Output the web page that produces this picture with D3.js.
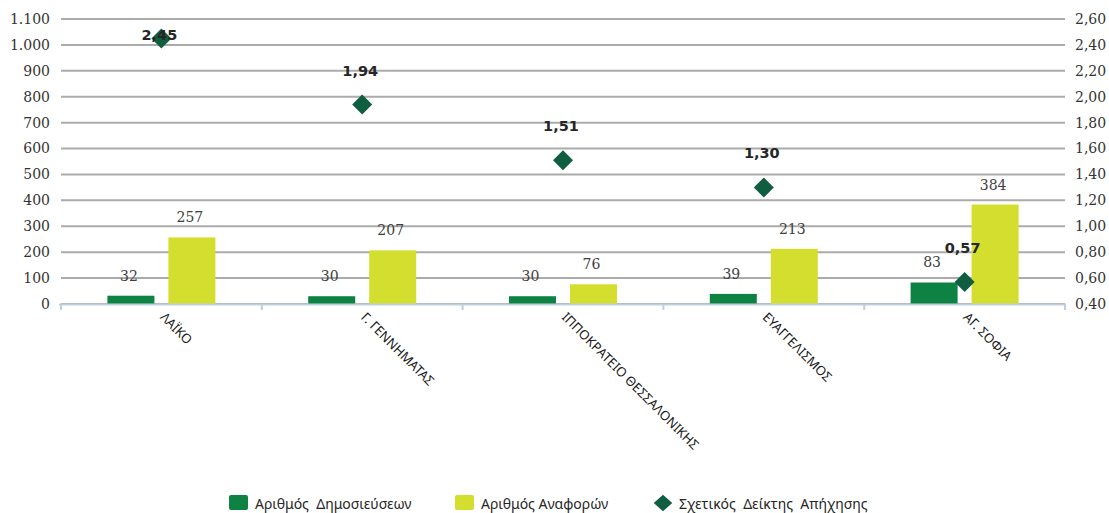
<!DOCTYPE html>
<html>
<head>
<meta charset="utf-8">
<script src="https://cdn.jsdelivr.net/npm/d3@7"></script>
<style>
  html, body { margin: 0; padding: 0; background: #fff; }
  svg { display: block; }
</style>
</head>
<body>
<svg id="chart" width="1109" height="513"></svg>
<script>
// ---------- data ----------
const categories = ["ΛΑΪΚΟ", "Γ. ΓΕΝΝΗΜΑΤΑΣ", "ΙΠΠΟΚΡΑΤΕΙΟ ΘΕΣΣΑΛΟΝΙΚΗΣ", "ΕΥΑΓΓΕΛΙΣΜΟΣ", "ΑΓ. ΣΟΦΙΑ"];
const publications = [32, 30, 30, 39, 83];
const reports = [257, 207, 76, 213, 384];
const impactIndex = [2.45, 1.94, 1.51, 1.30, 0.57];
const leftTicks = [0, 100, 200, 300, 400, 500, 600, 700, 800, 900, 1000, 1100];
const rightTicks = [0.4, 0.6, 0.8, 1.0, 1.2, 1.4, 1.6, 1.8, 2.0, 2.2, 2.4, 2.6];
const seriesNames = ["Αριθμός  Δημοσιεύσεων", "Αριθμός Αναφορών", "Σχετικός  Δείκτης  Απήχησης"];

// ---------- setup ----------
const svg = d3.select("#chart");
const plot = { left: 61, right: 1065, top: 19, bottom: 304 };
const colors = { pub: "#0e8242", rep: "#d4de2f", idx: "#0f5e40" };

const locale = d3.formatLocale({ decimal: ",", thousands: ".", grouping: [3], currency: ["", "€"] });
const fmtLeft = locale.format(",d");
const fmtRight = locale.format(".2f");

const x = d3.scaleBand().domain(categories).range([plot.left, plot.right]).padding(0);
const keys = ["pub", "rep"];
const x1 = d3.scaleBand().domain(keys).range([-54, 54]).paddingInner(0.2295).paddingOuter(0);
const yL = d3.scaleLinear().domain([0, 1100]).range([plot.bottom, plot.top]);
const yR = d3.scaleLinear().domain([0.4, 2.6]).range([plot.bottom, plot.top]);

// gridlines
svg.append("g").selectAll("line").data(leftTicks).join("line")
  .attr("x1", plot.left).attr("x2", plot.right)
  .attr("y1", d => yL(d)).attr("y2", d => yL(d))
  .attr("stroke", "#ababab").attr("stroke-width", 2);

// left axis labels
svg.append("g").selectAll("text").data(leftTicks).join("text")
  .attr("x", 50).attr("y", d => yL(d)).attr("dy", "0.35em")
  .attr("text-anchor", "end")
  .attr("font-family", "DejaVu Serif").attr("font-size", 14).attr("fill", "#333")
  .text(d => fmtLeft(d));

// right axis labels
svg.append("g").selectAll("text").data(rightTicks).join("text")
  .attr("x", 1075).attr("y", d => yR(d)).attr("dy", "0.35em")
  .attr("text-anchor", "start")
  .attr("font-family", "DejaVu Serif").attr("font-size", 14).attr("fill", "#333")
  .text(d => fmtRight(d));

// bars
const rows = categories.map((c, i) => ({ cat: c, pub: publications[i], rep: reports[i], idx: impactIndex[i] }));
const barG = svg.append("g");
rows.forEach(r => {
  const cx = x(r.cat) + x.bandwidth() / 2;
  keys.forEach(k => {
    barG.append("rect")
      .attr("x", cx + x1(k)).attr("width", x1.bandwidth())
      .attr("y", yL(r[k])).attr("height", yL(0) - yL(r[k]))
      .attr("fill", colors[k]);
    barG.append("text")
      .attr("x", cx + x1(k) + x1.bandwidth() / 2 - 2)
      .attr("y", yL(r[k]) - 15)
      .attr("text-anchor", "middle")
      .attr("font-family", "DejaVu Serif").attr("font-size", 14).attr("fill", "#404040")
      .text(r[k]);
  });
});

// x axis line + ticks
const axisG = svg.append("g");
axisG.append("line").attr("x1", plot.left - 2).attr("x2", plot.right + 1)
  .attr("y1", plot.bottom + 0.5).attr("y2", plot.bottom + 0.5)
  .attr("stroke", "#bfcfdf").attr("stroke-width", 2);
const bounds = categories.map(c => x(c)).concat([plot.right]);
axisG.selectAll("line.tk").data(bounds).join("line").attr("class", "tk")
  .attr("x1", d => d).attr("x2", d => d)
  .attr("y1", plot.bottom).attr("y2", plot.bottom + 6)
  .attr("stroke", "#bfcfdf").attr("stroke-width", 2);

// x labels
axisG.selectAll("text").data(categories).join("text")
  .attr("transform", d => `translate(${x(d) + x.bandwidth() / 2 - 2},318) rotate(45)`)
  .attr("text-anchor", "start")
  .attr("font-family", "Noto Sans").attr("font-size", 13).attr("fill", "#1a1a1a")
  .text(d => d);

// diamonds
const diamond = d3.symbol(d3.symbolSquare, 200);
const ptG = svg.append("g");
rows.forEach(r => {
  const cx = x(r.cat) + x.bandwidth() / 2;
  const cy = yR(r.idx);
  ptG.append("path").attr("d", diamond())
    .attr("transform", `translate(${cx},${cy}) rotate(45)`)
    .attr("fill", colors.idx);
});
rows.forEach(r => {
  const cx = x(r.cat) + x.bandwidth() / 2;
  const cy = yR(r.idx);
  const ly = Math.max(cy - 29, 40);
  ptG.append("text")
    .attr("x", cx - 2).attr("y", ly)
    .attr("text-anchor", "middle")
    .attr("font-family", "DejaVu Sans").attr("font-weight", "bold").attr("font-size", 14.5)
    .attr("fill", "#262626")
    .text(fmtRight(r.idx));
});

// legend
const leg = svg.append("g").attr("font-family", "Noto Sans").attr("font-size", 14).attr("fill", "#262626");
const legItems = [
  { name: seriesNames[0], color: colors.pub, type: "rect", kx: 229, tx: 255 },
  { name: seriesNames[1], color: colors.rep, type: "rect", kx: 455, tx: 481 },
  { name: seriesNames[2], color: colors.idx, type: "diamond", kx: 653, tx: 679 }
];
legItems.forEach(it => {
  if (it.type === "rect") {
    leg.append("rect").attr("x", it.kx).attr("y", 495).attr("width", 19).attr("height", 15)
      .attr("rx", 2).attr("fill", it.color);
  } else {
    leg.append("path").attr("d", d3.symbol(d3.symbolSquare, 170)())
      .attr("transform", `translate(${it.kx + 10},503) scale(1,0.9) rotate(45)`)
      .attr("fill", it.color);
  }
  leg.append("text").attr("x", it.tx).attr("y", 508.5)
    .style("white-space", "pre").text(it.name);
});
</script>
</body>
</html>
